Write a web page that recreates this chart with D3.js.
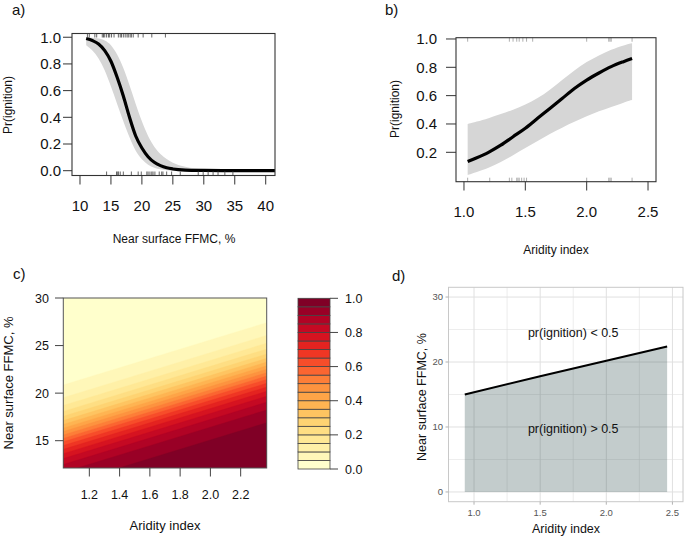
<!DOCTYPE html>
<html><head><meta charset="utf-8">
<script src="https://cdn.jsdelivr.net/npm/d3@7"></script>
<style>body{margin:0;background:#fff}svg{display:block;font-family:"Liberation Sans",Arial,sans-serif}</style>
</head><body>
<svg id="c" width="685" height="539"></svg>
<script>
// ---------- Panel a data: Pr(ignition) vs FFMC ----------
const ffmcX    = [11,12,13,14,15,16,17,18,19,20,21,22,23,24,25,27,30,33,36,41.5];
const ffmcFit  = [0.99,0.975,0.95,0.90,0.82,0.70,0.56,0.40,0.26,0.17,0.105,0.063,0.038,0.022,0.013,0.005,0.002,0.0008,0.0003,0.0];
const ffmcUp   = [0.998,0.996,0.99,0.975,0.94,0.87,0.77,0.64,0.50,0.37,0.26,0.18,0.125,0.087,0.06,0.03,0.012,0.005,0.002,0.0];
const ffmcLo   = [0.94,0.90,0.84,0.75,0.63,0.50,0.37,0.25,0.15,0.085,0.045,0.022,0.01,0.004,0.001,0,0,0,0,0];
const ffmcRugTop = [11.2,11.5,12.4,12.7,13.6,13.8,14.0,14.3,14.6,14.8,15.1,15.5,16.2,16.5,16.7,17.0,17.3,17.6,17.8,18.1,18.3,18.6,19.4,20.2,21.6,23.8];
const ffmcRugBot = [14.3,15.9,16.1,16.2,16.5,17.0,18.3,19.4,19.9,20.8,21.0,21.3,21.6,21.8,22.1,22.8,23.2,23.4,24.0,24.8,26.2,29.1,29.9,30.7,31.5,32.3,33.4,34.7];
const ffmcTicks = [10,15,20,25,30,35,40];
const probTicksA = [0,0.2,0.4,0.6,0.8,1.0];

// ---------- Panel b data: Pr(ignition) vs Aridity ----------
const aridX   = [1.03,1.1,1.2,1.3,1.4,1.5,1.6,1.7,1.8,1.9,2.0,2.1,2.2,2.3,2.37];
const aridFit = [0.135,0.16,0.20,0.25,0.31,0.37,0.44,0.51,0.58,0.65,0.71,0.76,0.805,0.84,0.862];
const aridUp  = [0.40,0.415,0.44,0.47,0.50,0.535,0.58,0.64,0.71,0.78,0.84,0.885,0.925,0.955,0.97];
const aridLo  = [0.04,0.06,0.09,0.13,0.18,0.23,0.28,0.33,0.375,0.415,0.455,0.49,0.52,0.55,0.57];
const aridRugTop = [1.03,1.37,1.40,1.43,1.45,1.48,1.51,1.56,2.00,2.18,2.19,2.20,2.37];
const aridRugBot = [1.03,1.21,1.37,1.39,1.43,1.44,1.45,1.47,1.49,1.51,2.00,2.18,2.19,2.20,2.37];
const aridTicks = [1.0,1.5,2.0,2.5];
const probTicksB = [0.2,0.4,0.6,0.8,1.0];

// ---------- Panel c data: contour levels (FFMC where p = level) at left/right edges ----------
const contourLevels = [0.05,0.10,0.15,0.20,0.25,0.30,0.35,0.40,0.45,0.50,0.55,0.60,0.65,0.70,0.75,0.80,0.85,0.90,0.95];
const contourLeftFFMC  = [20.86,19.52,18.70,18.08,17.56,17.11,16.71,16.32,15.96,15.60,15.24,14.88,14.49,14.09,13.64,13.12,12.50,11.68,10.34];
const contourRightFFMC = [27.41,26.07,25.25,24.63,24.11,23.66,23.26,22.87,22.51,22.15,21.79,21.43,21.04,20.64,20.19,19.67,19.05,18.23,16.89];
const contourAridEdges = [1.028,2.372];
const cXTicks = [1.2,1.4,1.6,1.8,2.0,2.2];
const cYTicks = [15,20,25,30];
const legendTicks = [0.0,0.2,0.4,0.6,0.8,1.0];

// ---------- Panel d data: 0.5 threshold line ----------
const thrArid = [0.93,1.5,2.0,2.46];
const thrFFMC = [15.0,17.8,20.2,22.4];
const dXTicks = [1.0,1.5,2.0,2.5];
const dXMinor = [1.25,1.75,2.25];
const dYTicks = [0,10,20,30];
const dYMinor = [5,15,25];

const svg = d3.select("#c");
const FONT = 15;

function label(t,x,y){svg.append("text").attr("x",x).attr("y",y).attr("font-size",15).attr("fill","#111").text(t);}

// =============== Panel a =================
(function(){
  const x = d3.scaleLinear().domain([8.71,41.5]).range([72,275]);
  const y = d3.scaleLinear().domain([-0.036,1.028]).range([175.5,33.5]);
  const g = svg.append("g");
  const clip = svg.append("clipPath").attr("id","clipA");
  clip.append("rect").attr("x",72).attr("y",33.5).attr("width",203).attr("height",142);
  const pts = ffmcX.map((v,i)=>({x:v,f:ffmcFit[i],u:ffmcUp[i],l:ffmcLo[i]}));
  g.append("path").datum(pts).attr("clip-path","url(#clipA)")
    .attr("d",d3.area().x(d=>x(d.x)).y0(d=>y(d.l)).y1(d=>y(d.u)).curve(d3.curveMonotoneX))
    .attr("fill","#d6d6d6");
  g.append("path").datum(pts).attr("clip-path","url(#clipA)")
    .attr("d",d3.line().x(d=>x(d.x)).y(d=>y(d.f)).curve(d3.curveMonotoneX))
    .attr("fill","none").attr("stroke","#000").attr("stroke-width",3.2);
  // rugs
  g.selectAll(".rt").data(ffmcRugTop).join("line").attr("x1",d=>x(d)).attr("x2",d=>x(d))
    .attr("y1",33.5).attr("y2",37.5).attr("stroke","#555").attr("stroke-width",0.9);
  g.selectAll(".rb").data(ffmcRugBot).join("line").attr("x1",d=>x(d)).attr("x2",d=>x(d))
    .attr("y1",175.5).attr("y2",171.5).attr("stroke","#555").attr("stroke-width",0.9);
  g.append("rect").attr("x",72).attr("y",33.5).attr("width",203).attr("height",142)
    .attr("fill","none").attr("stroke","#333").attr("stroke-width",1.1);
  // axes
  ffmcTicks.forEach(t=>{
    g.append("line").attr("x1",x(t)).attr("x2",x(t)).attr("y1",175.5).attr("y2",184.5).attr("stroke","#333");
    g.append("text").attr("x",x(t)).attr("y",210.5).attr("text-anchor","middle").attr("font-size",FONT).attr("fill","#111").text(t);
  });
  probTicksA.forEach(t=>{
    g.append("line").attr("x1",63).attr("x2",72).attr("y1",y(t)).attr("y2",y(t)).attr("stroke","#333");
    g.append("text").attr("x",61).attr("y",y(t)).attr("dy","0.36em").attr("text-anchor","end").attr("font-size",FONT).attr("fill","#111").text(t.toFixed(1));
  });
  g.append("text").attr("x",174).attr("y",243).attr("text-anchor","middle").attr("font-size",12).attr("fill","#111").text("Near surface FFMC, %");
  g.append("text").attr("transform","translate(12,105) rotate(-90)").attr("text-anchor","middle").attr("font-size",12).attr("fill","#111").text("Pr(ignition)");
  label("a)",12,15);
})();

// =============== Panel b =================
(function(){
  const x = d3.scaleLinear().domain([0.935,2.565]).range([456,656]);
  const y = d3.scaleLinear().domain([-0.0075,1.009]).range([181.7,37.7]);
  const g = svg.append("g");
  const pts = aridX.map((v,i)=>({x:v,f:aridFit[i],u:aridUp[i],l:aridLo[i]}));
  g.append("path").datum(pts)
    .attr("d",d3.area().x(d=>x(d.x)).y0(d=>y(d.l)).y1(d=>y(d.u)).curve(d3.curveBasis))
    .attr("fill","#d6d6d6");
  g.append("path").datum(pts)
    .attr("d",d3.line().x(d=>x(d.x)).y(d=>y(d.f)).curve(d3.curveMonotoneX))
    .attr("fill","none").attr("stroke","#000").attr("stroke-width",3.2);
  g.selectAll(".rt").data(aridRugTop).join("line").attr("x1",d=>x(d)).attr("x2",d=>x(d))
    .attr("y1",37.7).attr("y2",41.7).attr("stroke","#999").attr("stroke-width",0.8);
  g.selectAll(".rb").data(aridRugBot).join("line").attr("x1",d=>x(d)).attr("x2",d=>x(d))
    .attr("y1",181.7).attr("y2",177.7).attr("stroke","#999").attr("stroke-width",0.8);
  g.append("rect").attr("x",456).attr("y",37.7).attr("width",200).attr("height",144)
    .attr("fill","none").attr("stroke","#333").attr("stroke-width",1.1);
  aridTicks.forEach(t=>{
    g.append("line").attr("x1",x(t)).attr("x2",x(t)).attr("y1",181.7).attr("y2",190.5).attr("stroke","#333");
    g.append("text").attr("x",x(t)).attr("y",216.5).attr("text-anchor","middle").attr("font-size",FONT).attr("fill","#111").text(t.toFixed(1));
  });
  probTicksB.forEach(t=>{
    g.append("line").attr("x1",446).attr("x2",456).attr("y1",y(t)).attr("y2",y(t)).attr("stroke","#333");
    g.append("text").attr("x",437).attr("y",y(t)).attr("dy","0.36em").attr("text-anchor","end").attr("font-size",FONT).attr("fill","#111").text(t.toFixed(1));
  });
  g.append("text").attr("x",556).attr("y",254).attr("text-anchor","middle").attr("font-size",12).attr("fill","#111").text("Aridity index");
  g.append("text").attr("transform","translate(399,109) rotate(-90)").attr("text-anchor","middle").attr("font-size",12).attr("fill","#111").text("Pr(ignition)");
  label("b)",385,15);
})();

// =============== Panel c =================
(function(){
  const x = d3.scaleLinear().domain([1.028,2.372]).range([63.3,266.7]);
  const y = d3.scaleLinear().domain([12.13,30]).range([468,298]);
  const col = d3.scaleSequential(d3.interpolateYlOrRd).domain([0,19]);
  const g = svg.append("g");
  svg.append("clipPath").attr("id","clipC").append("rect")
    .attr("x",63.3).attr("y",298).attr("width",203.4).attr("height",170);
  const inner = g.append("g").attr("clip-path","url(#clipC)");
  inner.append("rect").attr("x",63.3).attr("y",298).attr("width",203.4).attr("height",170).attr("fill",col(0));
  contourLevels.forEach((lv,i)=>{
    const x0 = x(contourAridEdges[0]), x1 = x(contourAridEdges[1]);
    const pts = [[x0,y(contourLeftFFMC[i])],[x1,y(contourRightFFMC[i])],[x1,y(0)],[x0,y(0)]];
    inner.append("path").attr("d","M"+pts.join("L")+"Z").attr("fill",col(i+1))
      .attr("stroke",col(i+1)).attr("stroke-width",0.4);
  });
  g.append("rect").attr("x",63.3).attr("y",298).attr("width",203.4).attr("height",170)
    .attr("fill","none").attr("stroke","#555").attr("stroke-width",1);
  cXTicks.forEach(t=>{
    g.append("line").attr("x1",x(t)).attr("x2",x(t)).attr("y1",468).attr("y2",476.5).attr("stroke","#444");
    g.append("text").attr("x",x(t)).attr("y",498.5).attr("text-anchor","middle").attr("font-size",12.5).attr("fill","#111").text(t.toFixed(1));
  });
  cYTicks.forEach(t=>{
    g.append("line").attr("x1",55).attr("x2",63.3).attr("y1",y(t)).attr("y2",y(t)).attr("stroke","#444");
    g.append("text").attr("x",49).attr("y",y(t)).attr("dy","0.36em").attr("text-anchor","end").attr("font-size",12.5).attr("fill","#111").text(t);
  });
  g.append("text").attr("x",165).attr("y",530).attr("text-anchor","middle").attr("font-size",13).attr("fill","#111").text("Aridity index");
  g.append("text").attr("transform","translate(12.5,383) rotate(-90)").attr("text-anchor","middle").attr("font-size",13).attr("fill","#111").text("Near surface FFMC, %");
  label("c)",13,279);

  // legend
  const ly = d3.scaleLinear().domain([0,1]).range([469,298.3]);
  const bands = d3.range(20);
  g.selectAll(".lb").data(bands).join("rect")
    .attr("x",298).attr("width",32)
    .attr("y",d=>ly((d+1)*0.05)).attr("height",d=>ly(d*0.05)-ly((d+1)*0.05))
    .attr("fill",d=>col(d)).attr("stroke","#444").attr("stroke-width",0.8);
  legendTicks.forEach(t=>{
    g.append("line").attr("x1",330).attr("x2",338).attr("y1",ly(t)).attr("y2",ly(t)).attr("stroke","#444");
    g.append("text").attr("x",345).attr("y",ly(t)).attr("dy","0.36em").attr("font-size",12.5).attr("fill","#111").text(t.toFixed(1));
  });
})();

// =============== Panel d =================
(function(){
  const x = d3.scaleLinear().domain([0.807,2.58]).range([448.5,683]);
  const y = d3.scaleLinear().domain([-1.5,31.5]).range([501.7,287.3]);
  const g = svg.append("g");
  const gridC = "#e0e0e0";
  dXMinor.forEach(t=>g.append("line").attr("x1",x(t)).attr("x2",x(t)).attr("y1",287.3).attr("y2",501.7).attr("stroke",gridC).attr("stroke-width",0.6));
  dYMinor.forEach(t=>g.append("line").attr("y1",y(t)).attr("y2",y(t)).attr("x1",448.5).attr("x2",683).attr("stroke",gridC).attr("stroke-width",0.6));
  dXTicks.forEach(t=>g.append("line").attr("x1",x(t)).attr("x2",x(t)).attr("y1",287.3).attr("y2",501.7).attr("stroke",gridC).attr("stroke-width",1));
  dYTicks.forEach(t=>g.append("line").attr("y1",y(t)).attr("y2",y(t)).attr("x1",448.5).attr("x2",683).attr("stroke",gridC).attr("stroke-width",1));
  const pts = thrArid.map((v,i)=>({x:v,y:thrFFMC[i]}));
  g.append("path").datum(pts).attr("d",d3.area().x(d=>x(d.x)).y0(y(0)).y1(d=>y(d.y)))
    .attr("fill","#2f4f4f").attr("fill-opacity",0.29);
  g.append("path").datum(pts).attr("d",d3.line().x(d=>x(d.x)).y(d=>y(d.y)))
    .attr("fill","none").attr("stroke","#000").attr("stroke-width",2);
  g.append("rect").attr("x",448.5).attr("y",287.3).attr("width",234.5).attr("height",214.4)
    .attr("fill","none").attr("stroke","#c8c8c8").attr("stroke-width",1);
  dXTicks.forEach(t=>{
    g.append("line").attr("x1",x(t)).attr("x2",x(t)).attr("y1",501.7).attr("y2",504.7).attr("stroke","#b3b3b3");
    g.append("text").attr("x",x(t)).attr("y",516).attr("text-anchor","middle").attr("font-size",9.5).attr("fill","#555").text(t.toFixed(1));
  });
  dYTicks.forEach(t=>{
    g.append("line").attr("x1",445.5).attr("x2",448.5).attr("y1",y(t)).attr("y2",y(t)).attr("stroke","#b3b3b3");
    g.append("text").attr("x",443).attr("y",y(t)).attr("dy","0.36em").attr("text-anchor","end").attr("font-size",9.5).attr("fill","#555").text(t);
  });
  g.append("text").attr("x",x(1.75)).attr("y",y(24.6)).attr("dy","0.36em").attr("text-anchor","middle").attr("font-size",12.5).attr("fill","#111").text("pr(ignition) < 0.5");
  g.append("text").attr("x",x(1.75)).attr("y",y(9.7)).attr("dy","0.36em").attr("text-anchor","middle").attr("font-size",12.5).attr("fill","#111").text("pr(ignition) > 0.5");
  g.append("text").attr("x",566).attr("y",533).attr("text-anchor","middle").attr("font-size",12.5).attr("fill","#111").text("Aridity index");
  g.append("text").attr("transform","translate(426,397) rotate(-90)").attr("text-anchor","middle").attr("font-size",12.5).attr("fill","#111").text("Near surface FFMC, %");
  label("d)",392,281);
})();
</script>
</body></html>
